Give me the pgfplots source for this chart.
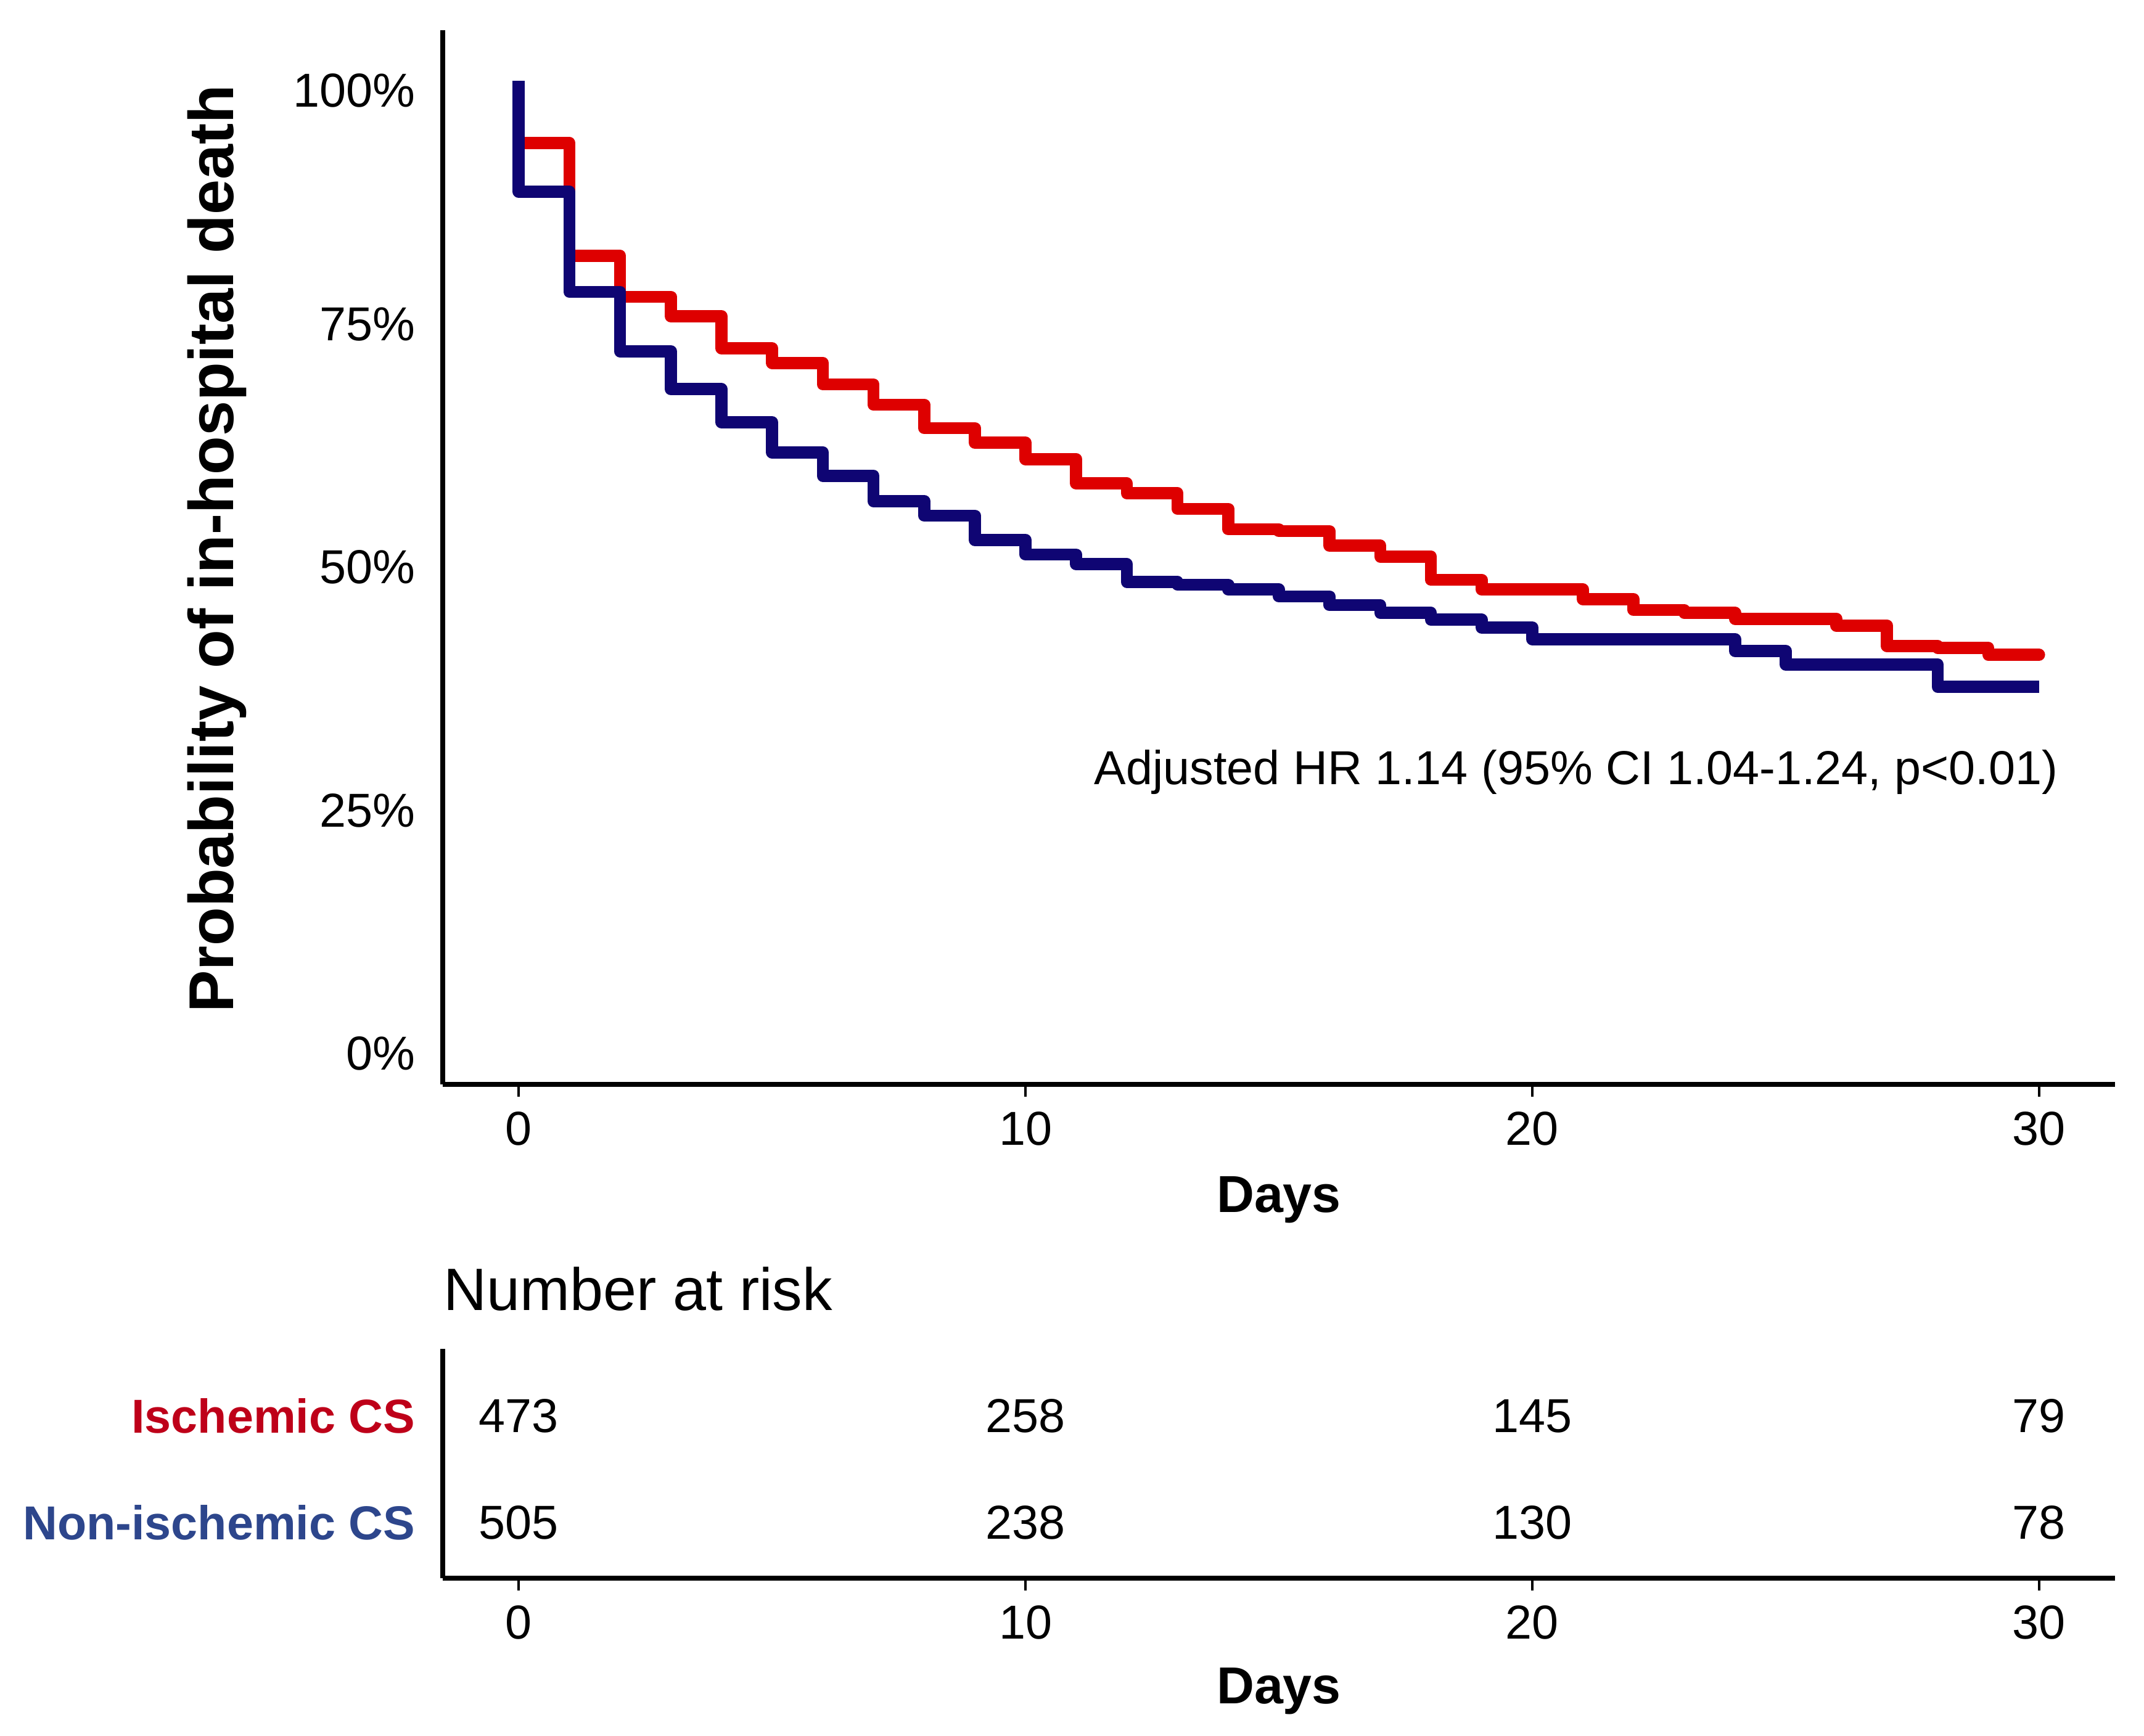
\documentclass[border=0pt]{standalone}
\usepackage{fontspec}
\setmainfont{Liberation Sans}
\usepackage{pgfplots}
\pgfplotsset{compat=1.18}

\definecolor{kmred}{RGB}{222,0,0}
\definecolor{kmblue}{RGB}{15,5,115}
\definecolor{labred}{RGB}{190,0,25}
\definecolor{labblue}{RGB}{45,70,140}

\pgfplotsset{
  kmbase/.style={
    scale only axis, width=13.56cm,
    xmin=-1.5, xmax=31.5,
    axis lines*=left,
    axis line style={line width=1.2pt, black},
    xtick={0,10,20,30},
    tick align=outside,
    major tick length=0.1cm,
    xtick style={line width=0.6pt, black},
    ytick style={draw=none},
    ticklabel style={font=\fontsize{11}{13}\selectfont},
    /pgf/number format/assume math mode=true,
    xlabel={Days},
    xlabel style={font=\fontsize{12}{14}\selectfont\bfseries, anchor=base},
  }
}

\begin{document}
\begin{tikzpicture}
\path[use as bounding box] (-3.59,8.795) rectangle (13.795,-5.28);

% survival curves
\begin{axis}[kmbase, at={(0,0)}, anchor=south west, height=8.55cm,
  ymin=-0.0317, ymax=1.052,
  ytick={0,0.25,0.5,0.75,1},
  yticklabels={0\%,25\%,50\%,75\%,\raisebox{-0.075cm}[\height][0pt]{100\%}},
  ylabel={Probability of in-hospital death},
  ylabel style={font=\fontsize{14.6}{17}\selectfont\bfseries, at={(axis description cs:-0.135,0.508)}, anchor=center},
  xlabel style={at={(axis description cs:0.5,-0.1216)}},
  clip=false]

\addplot[kmred, line width=2.8pt, const plot, line join=round, line cap=round] coordinates {
  (0,0.936) (1,0.820) (2,0.778) (3,0.758) (4,0.725) (5,0.710)
  (6,0.688) (7,0.667) (8,0.643) (9,0.628) (10,0.611) (11,0.586) (12,0.576)
  (13,0.560) (14,0.539) (15,0.537) (16,0.522) (17,0.511) (18,0.487) (19,0.477)
  (21,0.467) (22,0.456) (23,0.453) (24,0.447) (26,0.440) (27,0.419) (28,0.417)
  (29,0.410) (30,0.410)
};
\addplot[kmblue, line width=2.8pt, const plot, line join=round] coordinates {
  (0,1.000) (0,0.886) (1,0.783) (2,0.722) (3,0.683) (4,0.649) (5,0.618)
  (6,0.594) (7,0.568) (8,0.553) (9,0.528) (10,0.513) (11,0.503) (12,0.485)
  (13,0.482) (14,0.477) (15,0.470) (16,0.461) (17,0.453) (18,0.446) (19,0.438)
  (20,0.426) (24,0.414) (25,0.400) (28,0.377) (30,0.377)
};

\node[anchor=base east, font=\fontsize{11}{13}\selectfont, inner sep=0pt]
  at (axis cs:30.39,0.2765) {Adjusted HR 1.14 (95\% CI 1.04-1.24, p<0.01)};
\end{axis}

% number at risk table
\begin{axis}[kmbase, at={(0,-4.005cm)}, anchor=south west, height=1.86cm,
  ymin=0.48, ymax=2.63,
  ytick={1,2},
  yticklabels={\textcolor{labblue}{Non-ischemic CS},\textcolor{labred}{Ischemic CS}},
  yticklabel style={font=\fontsize{11}{13}\selectfont\bfseries},
  xlabel style={at={(axis description cs:0.5,-0.548)}},
  title={Number at risk},
  title style={at={(axis description cs:0,1)}, anchor=base west, yshift=0.1cm,
    font=\fontsize{13.8}{16}\selectfont, inner sep=0pt},
  clip=false]

\addplot[only marks, mark=none, nodes near coords, point meta=explicit symbolic,
  nodes near coords style={anchor=center, font=\fontsize{11}{13}\selectfont, text=black}]
  table[meta=n] {
x  y n
0  2 473
10 2 258
20 2 145
30 2 79
0  1 505
10 1 238
20 1 130
30 1 78
};
\end{axis}
\end{tikzpicture}
\end{document}
